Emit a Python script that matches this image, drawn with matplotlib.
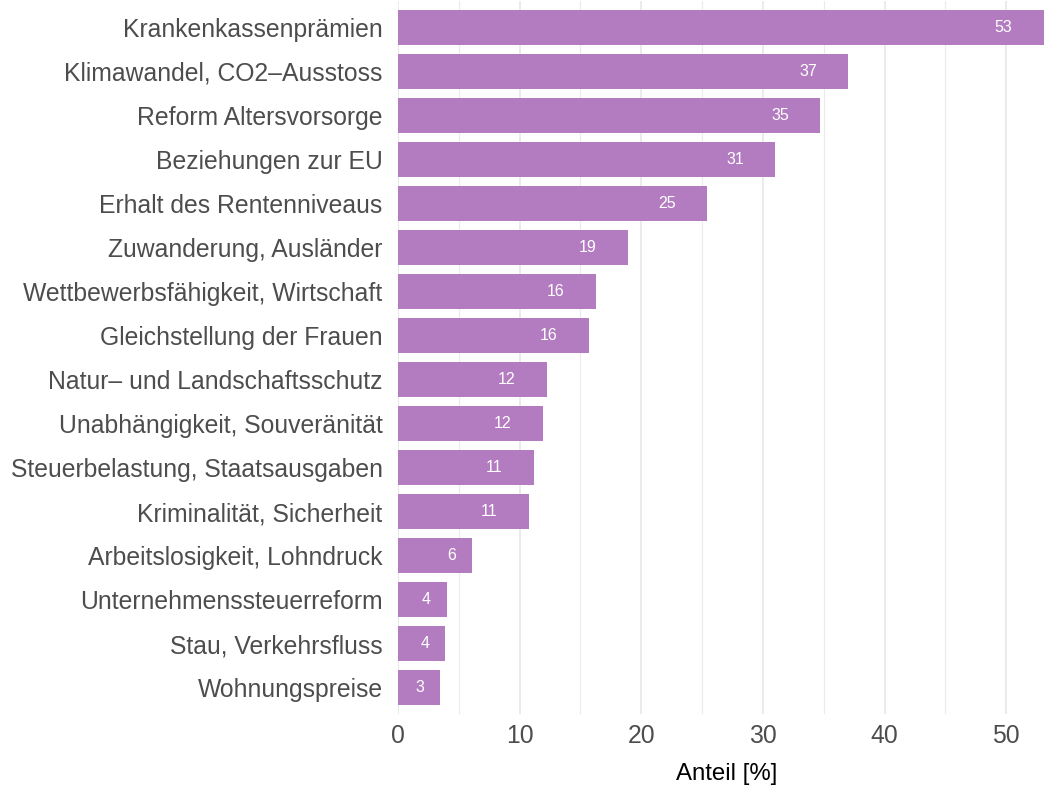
import matplotlib.pyplot as plt
import numpy as np

# Themen und Anteil der Nennungen in Prozent (von oben nach unten)
themen = [
    'Krankenkassenprämien',
    'Klimawandel, CO2\u2013Ausstoss',
    'Reform Altersvorsorge',
    'Beziehungen zur EU',
    'Erhalt des Rentenniveaus',
    'Zuwanderung, Ausländer',
    'Wettbewerbsfähigkeit, Wirtschaft',
    'Gleichstellung der Frauen',
    'Natur\u2013 und Landschaftsschutz',
    'Unabhängigkeit, Souveränität',
    'Steuerbelastung, Staatsausgaben',
    'Kriminalität, Sicherheit',
    'Arbeitslosigkeit, Lohndruck',
    'Unternehmenssteuerreform',
    'Stau, Verkehrsfluss',
    'Wohnungspreise',
]
anteil = [53.1, 37.0, 34.7, 31.0, 25.4, 18.9, 16.3, 15.7,
          12.25, 11.9, 11.2, 10.8, 6.1, 4.0, 3.9, 3.45]

x_ticks = [0, 10, 20, 30, 40, 50]

balken_farbe = '#B47CC0'
grau = '#4D4D4D'

plt.rcParams['font.family'] = ['Liberation Sans', 'DejaVu Sans']

fig = plt.figure(figsize=(10.44, 7.9), dpi=100)
ax = fig.add_axes([398 / 1044, 1 - 714 / 790, 1 - 398 / 1044, 713 / 790])

pos = np.arange(len(themen))
ax.barh(pos, anteil, height=0.8, color=balken_farbe, zorder=2)

# Werte als Zahl im Balken, ein Stück vor dem Balkenende
for y, v in zip(pos, anteil):
    txt = str(int(round(v)))
    ax.annotate(txt, (v, y), xytext=(-14.5 * len(txt), 0),
                textcoords='offset points', ha='center', va='center',
                color='white', fontsize=11.5, zorder=3)

ax.set_ylim(len(themen) - 0.4, -0.6)
ax.set_xlim(0, max(anteil))
ax.set_yticks(pos)
ax.set_yticklabels(themen)
ax.set_xticks(x_ticks)
ax.set_xticks([5, 15, 25, 35, 45], minor=True)

ax.tick_params(axis='both', which='both', length=0)
ax.tick_params(axis='both', labelsize=17.8, labelcolor=grau)
ax.tick_params(axis='y', pad=11)
ax.tick_params(axis='x', pad=7)

ax.grid(axis='x', which='major', color='#EBEBEB', linewidth=1.4, zorder=0)
ax.grid(axis='x', which='minor', color='#EBEBEB', linewidth=0.8, zorder=0)
ax.set_axisbelow(True)
for s in ax.spines.values():
    s.set_visible(False)

ax.set_xlabel('Anteil [%]', fontsize=17.3, color='black', labelpad=11)
ax.xaxis.label.set_x(0.509)

fig.savefig('out.png', dpi=100)
